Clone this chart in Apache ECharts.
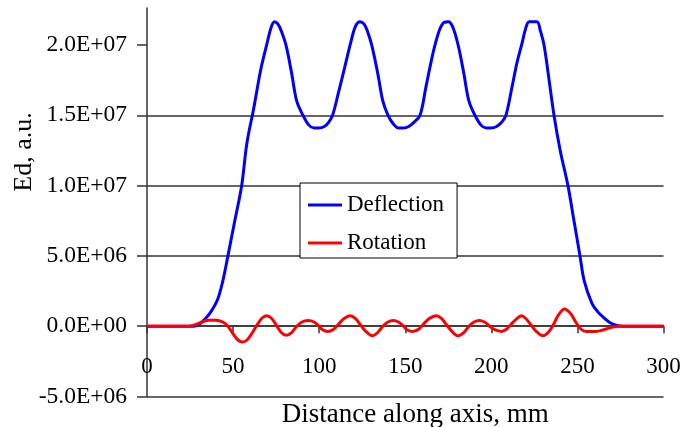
<!DOCTYPE html>
<html>
<head>
<meta charset="utf-8">
<script src="https://cdn.jsdelivr.net/npm/echarts@6/dist/echarts.min.js"></script>
<style>html,body{margin:0;padding:0;background:#fff;}#c{width:684px;height:427px;}</style>
</head>
<body>
<div id="c"></div>
<script>
var xTicks = [0, 50, 100, 150, 200, 250, 300];
var yTicks = [-5e6, 0, 5e6, 1e7, 1.5e7, 2e7];
var deflection = [
[0,0],[25,0],[30,0.1e6],[34,0.55e6],[37,1.0e6],[41,1.9e6],[44,3.2e6],[47,5e6],[51,7.5e6],[55,1.0e7],[58,1.3e7],[62,1.55e7],[66,1.82e7],[69.5,2.0e7],[72,2.12e7],[74,2.165e7],[76,2.15e7],[78,2.1e7],[80.7,2.0e7],[84,1.8e7],[87,1.6e7],[90.6,1.5e7],[94,1.43e7],[97,1.41e7],[100,1.41e7],[103,1.42e7],[105.5,1.45e7],[107.8,1.5e7],[111,1.65e7],[115,1.85e7],[118,2.0e7],[121,2.13e7],[123.7,2.165e7],[126,2.15e7],[128,2.1e7],[130.5,2.0e7],[134,1.8e7],[137,1.6e7],[140,1.5e7],[143,1.44e7],[146,1.41e7],[149,1.41e7],[152,1.42e7],[155,1.45e7],[158.6,1.5e7],[162,1.7e7],[165,1.88e7],[167.3,2.0e7],[170,2.11e7],[172.5,2.16e7],[175,2.165e7],[177.5,2.13e7],[180.7,2.0e7],[184,1.8e7],[187,1.6e7],[190.5,1.5e7],[194,1.43e7],[197,1.41e7],[200,1.41e7],[203,1.42e7],[206,1.45e7],[208.5,1.5e7],[212,1.7e7],[215,1.88e7],[217.6,2.0e7],[220,2.12e7],[222,2.165e7],[226.5,2.165e7],[228.5,2.1e7],[230.6,2.0e7],[233,1.8e7],[236.4,1.5e7],[240,1.25e7],[244.5,1.0e7],[248,7.5e6],[251.5,5e6],[254,3.2e6],[258.5,1.6e6],[262,1.0e6],[265,0.64e6],[269,0.25e6],[273.6,0.03e6],[276,0],[300,0]
];
var rotation = [
[0,0],[24,0],[28,0.1e6],[32,0.3e6],[36,0.42e6],[40,0.42e6],[44,0.3e6],[47,0],[50,-0.55e6],[53,-1.0e6],[55.5,-1.12e6],[58,-1.0e6],[61,-0.5e6],[64,0.1e6],[67,0.6e6],[69.5,0.75e6],[72,0.6e6],[75,0.1e6],[78,-0.45e6],[81,-0.65e6],[84,-0.45e6],[87,0],[90,0.3e6],[93.5,0.4e6],[97,0.3e6],[100,0],[102,-0.25e6],[105,-0.37e6],[108,-0.25e6],[111,0.1e6],[114,0.5e6],[118,0.75e6],[121,0.55e6],[124,0.1e6],[127,-0.35e6],[131,-0.68e6],[134,-0.45e6],[137,0],[140,0.3e6],[143,0.4e6],[146,0.3e6],[149,0],[151,-0.25e6],[154.5,-0.37e6],[158,-0.2e6],[161,0.2e6],[164,0.55e6],[168,0.75e6],[171,0.55e6],[174,0.1e6],[177,-0.35e6],[180.5,-0.68e6],[184,-0.45e6],[187,0],[190,0.3e6],[193,0.4e6],[196,0.3e6],[199,0],[202,-0.25e6],[206,-0.37e6],[209,-0.2e6],[212,0.2e6],[215,0.55e6],[217.5,0.75e6],[220,0.55e6],[223,0.1e6],[226,-0.35e6],[230,-0.68e6],[233,-0.45e6],[236,0.1e6],[239,0.8e6],[242.5,1.22e6],[246,0.9e6],[249,0.3e6],[252,-0.2e6],[255,-0.37e6],[260,-0.38e6],[264,-0.3e6],[268,-0.15e6],[272,-0.03e6],[275,0],[300,0]
];
var FONT = "'Liberation Serif','Times New Roman',serif";
var chart = echarts.init(document.getElementById('c'));
chart.setOption({
  animation: false,
  backgroundColor: '#fff',
  grid: {left: 147, right: 20.5, top: 8, bottom: 30.5, containLabel: false, outerBoundsMode: 'none'},
  legend: {
    orient: 'vertical', left: 300, top: 183,
    padding: [9, 13, 2, 8], itemGap: 12,
    backgroundColor: '#fff', borderColor: '#000', borderWidth: 1,
    icon: 'rect', itemWidth: 34, itemHeight: 3,
    textStyle: {fontFamily: FONT, fontSize: 23, color: '#000', lineHeight: 26},
    data: ['Deflection', 'Rotation']
  },
  xAxis: {
    type: 'value', min: 0, max: 300, interval: 50,
    name: 'Distance along axis, mm', nameLocation: 'middle', nameGap: 5,
    nameTextStyle: {fontFamily: FONT, fontSize: 27, color: '#000', padding: [0, 0, 0, 20]},
    axisLine: {onZero: true, lineStyle: {color: '#333', width: 1.5}},
    axisTick: {show: true, inside: false, length: 7, lineStyle: {color: '#333', width: 1.5}},
    axisLabel: {margin: -41.5, fontFamily: FONT, fontSize: 23, color: '#000', customValues: xTicks},
    splitLine: {show: false}
  },
  yAxis: {
    type: 'value', min: -5e6, max: 2.263e7, interval: 5e6,
    axisLine: {show: true, lineStyle: {color: '#333', width: 1.5}},
    axisTick: {show: true, inside: false, length: 10, lineStyle: {color: '#333', width: 1.5}, customValues: yTicks},
    axisLabel: {margin: 20, fontFamily: FONT, fontSize: 23.5, color: '#000', customValues: yTicks,
      formatter: function (v) { return v.toExponential(1).replace('e', 'E').replace(/E([+-])(\d)$/, 'E$10$2'); }},
    splitLine: {show: true, showMaxLine: false, lineStyle: {color: '#333', width: 1.5}}
  },
  graphic: [{
    type: 'text', x: 24, y: 152, rotation: Math.PI / 2,
    style: {text: 'Ed, a.u.', fontFamily: FONT, fontSize: 26, fill: '#000', align: 'center', verticalAlign: 'middle'}
  }],
  series: [
    {name: 'Deflection', type: 'line', data: deflection, showSymbol: false, smooth: 0.35,
     lineStyle: {color: '#0000ff', width: 3}, itemStyle: {color: '#0000ff'}},
    {name: 'Rotation', type: 'line', data: rotation, showSymbol: false, smooth: 0.35,
     lineStyle: {color: '#ff0000', width: 3}, itemStyle: {color: '#ff0000'}}
  ]
});
</script>
</body>
</html>
